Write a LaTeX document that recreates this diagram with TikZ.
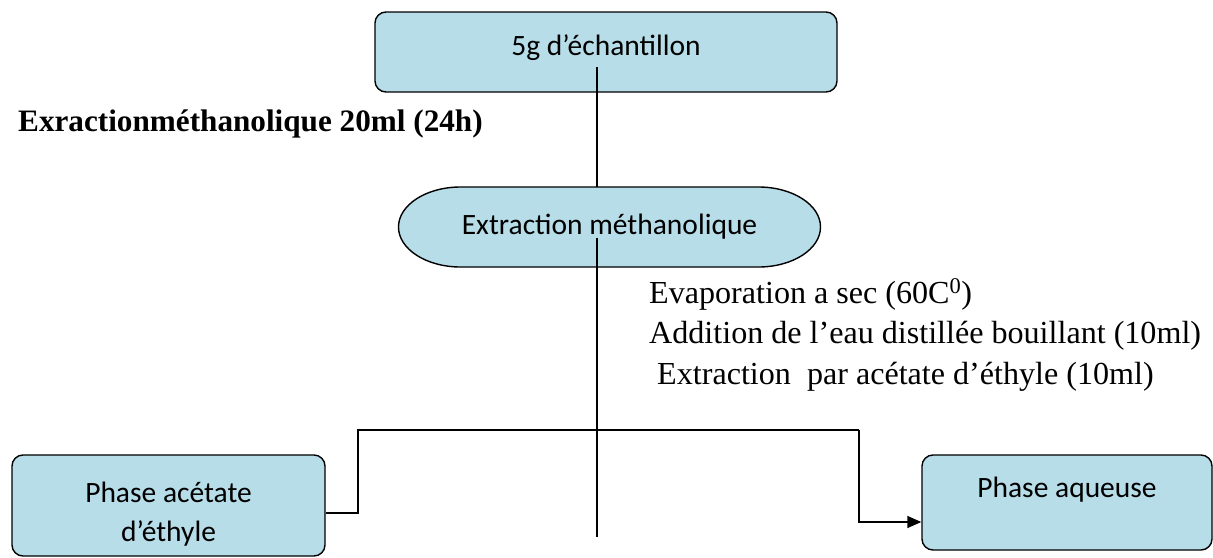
\documentclass[tikz,border=0pt]{standalone}
\usepackage{fontspec}
\setmainfont{Liberation Serif}
\newfontfamily\calfont{Carlito}
\usetikzlibrary{arrows.meta}
\definecolor{boxblue}{RGB}{183,221,232}
\begin{document}
\begin{tikzpicture}[x=1pt,y=1pt,
  box/.style={draw=black, line width=1.4pt, fill=boxblue, rounded corners=11pt,
    font=\calfont\fontsize{29.5}{39}\selectfont, align=center, inner sep=0pt},
  conn/.style={line width=1.5pt},
  serif/.style={font=\fontsize{32.1}{40}\selectfont, inner sep=0pt, anchor=base west}
]
\useasboundingbox (0,0) rectangle (1213,-557);

% top box
\node[box, minimum width=462pt, minimum height=80pt, text height=20pt, text depth=13pt] (top) at (606,-52) {5g d’échantillon};

% bold label
\node[font=\bfseries\fontsize{31.2}{38}\selectfont, inner sep=0pt, anchor=base west] (lab) at (18,-131) {Exractionméthanolique 20ml (24h)};

% stadium
\filldraw[line width=1.4pt, fill=boxblue] (460.5,-187) -- (758.5,-187)
  arc[start angle=90,end angle=-90,x radius=62,y radius=40] -- (460.5,-267)
  arc[start angle=270,end angle=90,x radius=62,y radius=40] -- cycle;
\node[font=\calfont\fontsize{29.5}{38}\selectfont, minimum width=423pt, minimum height=80pt, inner sep=0pt] (ext) at (609.5,-227) {Extraction méthanolique};

% bottom boxes
\node[box, minimum width=313pt, minimum height=101pt] (pa) at (168.5,-505.5) {\rule{0pt}{38pt}Phase acétate\\d’éthyle};
\node[box, minimum width=290pt, minimum height=95pt, text height=10pt, text depth=20pt] (aq) at (1067,-502.5) {Phase aqueuse};

% step texts
\node[serif] (s1) at (649,-303) {Evaporation a sec (60C\textsuperscript{0})};
\node[serif] (s2) at (649,-343) {Addition de l’eau distillée bouillant (10ml)};
\node[serif] (s3) at (649,-384) {\ Extraction~~par acétate d’éthyle (10ml)};

% connectors
\coordinate (a1) at (597,-67);
\draw[conn] (a1) -- (a1 |- ext.north);
\coordinate (a2) at (597,-238);
\coordinate (a3) at (597,-537);
\draw[conn] (a2) -- (a3);

\coordinate (bl) at (358,-430);
\coordinate (br) at (859,-430);
\draw[conn] ([yshift=-7.5pt]pa.east) -| (bl) -- (br);
\draw[conn,-{Triangle[length=14pt,width=12pt]}] (br) |- ([yshift=-19.5pt]aq.west);
\draw[line width=2.2pt] (577,-430) -- (623,-430);
\end{tikzpicture}
\end{document}
